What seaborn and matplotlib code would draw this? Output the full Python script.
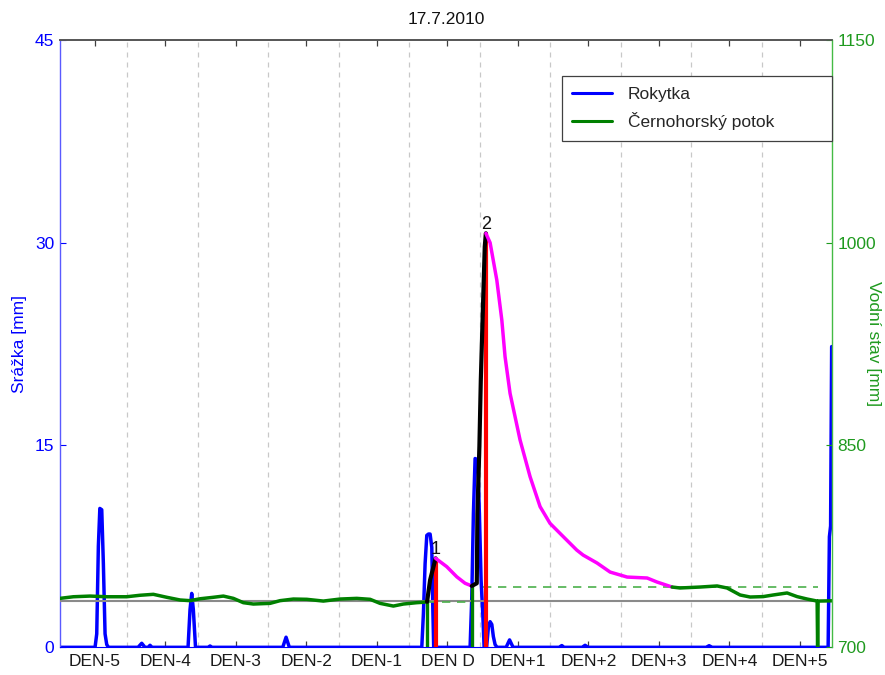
import numpy as np
import matplotlib
matplotlib.use('Agg')
import matplotlib.pyplot as plt
import seaborn as sns
from matplotlib.lines import Line2D

# ---------------- data (time in days, DEN D = [0, 1)) ----------------
title = '17.7.2010'
day_labels = ['DEN-5', 'DEN-4', 'DEN-3', 'DEN-2', 'DEN-1', 'DEN D',
              'DEN+1', 'DEN+2', 'DEN+3', 'DEN+4', 'DEN+5']
tick_pos = [-4.46, -3.46, -2.46, -1.46, -0.46, 0.54, 1.54, 2.54, 3.54, 4.54, 5.54]
grid_days = [-4, -3, -2, -1, 0, 1, 2, 3, 4, 5]

# Rokytka - precipitation [mm]
rain_t = [-4.955, -4.458, -4.434, -4.411, -4.390, -4.363, -4.340, -4.316, -4.292, -4.267,
          -3.848, -3.796, -3.750, -3.706, -3.678, -3.650,
          -3.139, -3.111, -3.087, -3.064, -3.033,
          -2.855, -2.827, -2.799,
          -1.796, -1.749, -1.702,
          0.176, 0.199, 0.223, 0.247, 0.270, 0.294, 0.318, 0.332, 0.345,
          0.861, 0.885, 0.908, 0.932, 0.970, 0.993, 1.017, 1.041, 1.060,
          1.095, 1.121, 1.145, 1.169, 1.191, 1.216, 1.244,
          1.372, 1.421, 1.471,
          2.123, 2.162, 2.194, 2.450, 2.492, 2.535,
          4.209, 4.251, 4.294,
          5.939, 5.957, 5.974, 5.989]
rain_mm = [0, 0, 1.0, 7.5, 10.3, 10.2, 6.2, 1.0, 0.2, 0,
           0, 0.3, 0, 0, 0.15, 0,
           0, 2.8, 4.0, 2.8, 0,
           0, 0.1, 0,
           0, 0.75, 0,
           0, 2.5, 6.2, 8.3, 8.4, 8.4, 7.4, 3.0, 0,
           0, 3.7, 9.9, 14.0, 13.9, 9.9, 5.0, 2.5, 0,
           0, 1.5, 1.9, 1.7, 0.8, 0.2, 0,
           0, 0.55, 0,
           0, 0.13, 0, 0, 0.15, 0,
           0, 0.12, 0,
           0, 8.2, 9.0, 22.3]

# Cernohorsky potok - water level [mm]
level_t = [-4.955, -4.766, -4.529, -4.292, -4.009, -3.820, -3.631, -3.441, -3.252, -3.111,
           -2.969, -2.780, -2.638, -2.496, -2.355, -2.213, -1.976, -1.834, -1.645, -1.455,
           -1.220, -0.983, -0.746, -0.557, -0.416, -0.227, -0.085, 0.105, 0.199,
           0.251, 0.294, 0.372, 0.530, 0.672, 0.790,
           0.885, 0.956, 0.965, 0.993, 1.013, 1.041, 1.069, 1.085,
           1.145, 1.240, 1.311, 1.357, 1.428, 1.570, 1.712, 1.854, 1.995, 2.184,
           2.374, 2.464, 2.662, 2.847, 3.088, 3.372, 3.513, 3.726,
           3.839, 4.123, 4.364, 4.506, 4.691, 4.833, 5.017, 5.159, 5.357, 5.499,
           5.641, 5.783, 5.790, 5.797, 5.990]
level_mm = [736.3, 737.5, 738.0, 737.5, 737.5, 738.6, 739.3, 737.1, 735.1, 734.6,
            736.0, 737.1, 738.0, 736.3, 733.1, 732.1, 732.6, 734.6, 735.8, 735.6,
            734.3, 735.8, 736.3, 735.6, 732.6, 730.6, 732.1, 733.1, 733.4,
            733.8, 749.9, 766.0, 759.8, 752.3, 747.5,
            745.5, 747.5, 799.0, 849.0, 898.0, 948.0, 997.0, 1007.0,
            1000.0, 972.3, 942.7, 915.5, 888.3, 853.7, 826.5, 804.3, 791.9, 782.0,
            772.1, 768.4, 762.5, 755.8, 752.1, 751.4, 748.4, 744.7,
            744.0, 744.7, 745.5, 744.0, 738.8, 737.3, 737.6, 738.8, 740.3, 737.6,
            735.8, 734.3, 700.0, 734.3, 734.5]

# flood events
event_ids = ['1', '2']
event_start = [0.251, 0.885]
event_peak = [0.372, 1.085]
recession_end = 3.726
base_start = [0.251, 1.045]
base_end = [0.885, 5.797]
base_level = [733.8, 745.0]
threshold_level = 734.3

# ---------------- styling ----------------
sns.set_style('white')
plt.rcParams['font.family'] = ['Liberation Sans', 'DejaVu Sans']
FS = 12.5
BLUE = '#0000ff'
GREEN = '#008000'
GREEN_AX = '#1f9a1f'

fig = plt.figure(figsize=(8.85, 6.75), dpi=100)
ax = fig.add_axes([0.0678, 0.0410, 0.8720, 0.8991])
ax2 = ax.twinx()

# precipitation
sns.lineplot(x=rain_t, y=rain_mm, ax=ax, color=BLUE, linewidth=2.5,
             estimator=None, sort=False)

# water level
lt = np.array(level_t)
lv = np.array(level_mm)
ax2.axhline(threshold_level, color='#8a8a8a', lw=1.5, zorder=1)
ax2.hlines(base_level, base_start, base_end, colors='#4cb04c', lw=1.2,
           linestyles=(0, (5, 4)), zorder=1.2)

start_lv = np.interp(event_start, lt, lv)
peak_lv = np.interp(event_peak, lt, lv)
ax2.vlines(event_start, 700, start_lv, colors=GREEN, lw=2.4, zorder=1.5)
ax2.vlines(event_peak, 700, peak_lv, colors='#ff0000', lw=3.0, zorder=1.5)

bounds = [lt[0], event_start[0], event_peak[0], event_start[1], event_peak[1],
          recession_end, lt[-1]]
seg_colors = [GREEN, 'black', '#ff00ff', 'black', '#ff00ff', GREEN]
seg_lw = [2.5, 3.0, 2.5, 3.0, 2.5, 2.5]
for i, c in enumerate(seg_colors):
    m = (lt >= bounds[i]) & (lt <= bounds[i + 1])
    sns.lineplot(x=lt[m], y=lv[m], ax=ax2, color=c, linewidth=seg_lw[i],
                 estimator=None, sort=False)

for t, v, lab in zip(event_peak, peak_lv, event_ids):
    ax2.text(t, v, lab, ha='center', va='bottom', fontsize=13, color='#111111')

# axes
ax.set_xlim(-4.955, 5.99)
ax.set_ylim(0, 45)
ax2.set_ylim(700, 1150)

ax.set_xticks(tick_pos)
ax.set_xticklabels(day_labels)
ax.set_xticks(grid_days, minor=True)
ax.tick_params(axis='x', which='major', direction='in', top=True, bottom=True,
               length=4, width=0.9, color='#404040', labelsize=FS, pad=5,
               labelcolor='#1a1a1a')
ax.tick_params(axis='x', which='minor', length=0)
ax.grid(False)
ax.grid(True, which='minor', axis='x', color='#c8c8c8', ls=(0, (4, 4)), lw=0.9)

ax.set_yticks([0, 15, 30, 45])
ax.tick_params(axis='y', direction='in', length=4, colors=BLUE, labelsize=FS, pad=4)
ax2.set_yticks([700, 850, 1000, 1150])
ax2.tick_params(axis='y', direction='in', length=4, colors=GREEN_AX, labelsize=FS, pad=4)

ax.set_ylabel('Srážka [mm]', color=BLUE, fontsize=FS, va='center', ha='center')
ax.yaxis.set_label_coords(-0.053, 0.5)
ax2.set_ylabel('Vodní stav [mm]', color=GREEN_AX, fontsize=FS, rotation=270,
               va='center', ha='center')
ax2.yaxis.set_label_coords(1.0535, 0.5)

ax.set_title(title, fontsize=FS, pad=12, color='#111111')

for s in ['right']:
    ax.spines[s].set_visible(False)
for s in ['left', 'bottom']:
    ax2.spines[s].set_visible(False)
ax.spines['left'].set_color('#5a5aff')
ax.spines['left'].set_linewidth(1.0)
ax.spines['bottom'].set_color(BLUE)
ax.spines['top'].set_color('#555555')
ax.spines['top'].set_linewidth(1.2)
ax2.spines['top'].set_color('#555555')
ax2.spines['top'].set_linewidth(1.2)
ax2.spines['right'].set_color('#44bb44')
ax2.spines['right'].set_linewidth(1.0)

handles = [Line2D([], [], color=BLUE, lw=2.2, label='Rokytka'),
           Line2D([], [], color=GREEN, lw=2.2, label='Černohorský potok')]
leg = ax2.legend(handles=handles, loc='upper left',
                 bbox_to_anchor=(0.6505, 0.833, 0.3495, 0.108), mode='expand',
                 fontsize=FS, labelspacing=0.6, borderpad=0.6, handlelength=2.3,
                 handletextpad=0.9, borderaxespad=0, frameon=True, fancybox=False,
                 edgecolor='#404040', framealpha=1)
leg.get_frame().set_linewidth(0.9)

fig.savefig('out.png', dpi=100)
